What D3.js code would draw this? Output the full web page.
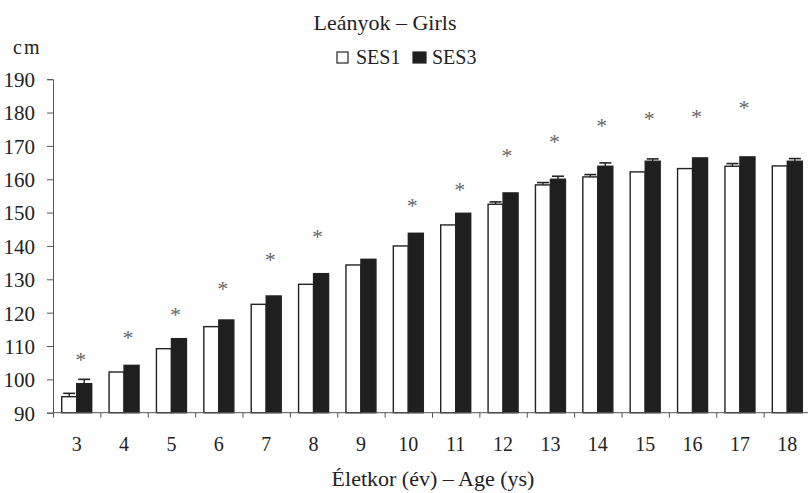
<!DOCTYPE html>
<html>
<head>
<meta charset="utf-8">
<script src="https://cdn.jsdelivr.net/npm/d3@7"></script>
<style>
  body { margin: 0; background: #fff; }
  svg text { font-family: "Liberation Serif", "Times New Roman", "DejaVu Serif", serif; fill: #222; }
</style>
</head>
<body>
<svg id="chart" width="808" height="493"></svg>
<script>
// chart values
var ages = ['3', '4', '5', '6', '7', '8', '9', '10', '11', '12', '13', '14', '15', '16', '17', '18'];
var ses1 = [94.8, 102.2, 109.2, 115.8, 122.5, 128.5, 134.3, 140.0, 146.3, 152.5, 158.3, 160.7, 162.2, 163.2, 163.9, 164.0];
var ses3 = [98.7, 104.2, 112.2, 117.8, 125.0, 131.7, 136.0, 143.8, 149.8, 155.9, 160.0, 163.9, 165.4, 166.4, 166.7, 165.4];
var ses1Err = [1.0, 0, 0, 0, 0, 0, 0, 0, 0, 0.7, 0.7, 0.7, 0, 0, 0.8, 0];
var ses3Err = [1.3, 0, 0, 0, 0, 0, 0, 0, 0, 0, 0.9, 1.0, 0.7, 0, 0, 0.8];
// height of the significance mark (null = no mark)
var starLevel = [106.6, 113.3, 120.2, 128.1, 136.8, 143.6, null, 153.0, 157.8, 168.0, 172.2, 177.0, 179.0, 179.5, 182.3, null];
var yTicks = [90, 100, 110, 120, 130, 140, 150, 160, 170, 180, 190];
var seriesNames = ['SES1', 'SES3'];

var svg = d3.select('#chart');
var x0Left = 53, x0Right = 811, yTop = 79.2, yBottom = 412.7;

var x = d3.scaleBand().domain(ages).range([x0Left, x0Right]).padding(0);
var xSub = d3.scaleBand().domain(seriesNames).range([8.7, 38.7]).padding(0);
var xEdge = d3.scaleLinear().domain([0, ages.length]).range([x0Left, x0Right]);
var y = d3.scaleLinear().domain([90, 190]).range([yBottom, yTop]);

var rows = ages.map(function(a, i) {
  return {
    age: a,
    bars: [
      {key: 'SES1', value: ses1[i], err: ses1Err[i]},
      {key: 'SES3', value: ses3[i], err: ses3Err[i]}
    ],
    star: starLevel[i]
  };
});

// bars
var groups = svg.append('g').selectAll('g.age').data(rows)
    .enter().append('g')
    .attr('class', 'age')
    .attr('transform', function(d) {
      return 'translate(' + x(d.age) + ',0)';
    });

groups.selectAll('rect').data(function(d) { return d.bars; })
    .enter().append('rect')
    .attr('x', function(d) { return xSub(d.key); })
    .attr('y', function(d) { return y(d.value); })
    .attr('width', xSub.bandwidth())
    .attr('height', function(d) { return y(90) - y(d.value); })
    .attr('fill', function(d) { return d.key == 'SES1' ? '#fff' : '#1f1f1f'; })
    .attr('stroke', '#222')
    .attr('stroke-width', 1.4);

// error bars, only where the picture shows them
var errs = groups.selectAll('g.err').data(function(d) {
  return d.bars.filter(function(b) { return b.err > 0; });
}).enter().append('g').attr('class', 'err');

errs.append('line')
    .attr('x1', function(d) { return xSub(d.key) + xSub.bandwidth() / 2; })
    .attr('x2', function(d) { return xSub(d.key) + xSub.bandwidth() / 2; })
    .attr('y1', function(d) { return y(d.value); })
    .attr('y2', function(d) { return y(d.value + d.err); })
    .attr('stroke', '#222').attr('stroke-width', 1.4);

errs.append('line')
    .attr('x1', function(d) { return xSub(d.key) + xSub.bandwidth() / 2 - 6; })
    .attr('x2', function(d) { return xSub(d.key) + xSub.bandwidth() / 2 + 6; })
    .attr('y1', function(d) { return y(d.value + d.err); })
    .attr('y2', function(d) { return y(d.value + d.err); })
    .attr('stroke', '#222').attr('stroke-width', 1.6);

// significance marks
groups.filter(function(d) { return d.star != null; })
    .append('text')
    .attr('x', x.bandwidth() / 2 + 4)
    .attr('y', function(d) { return y(d.star) + 10; })
    .attr('text-anchor', 'middle')
    .style('font-size', '22px')
    .style('fill', '#666')
    .text('*');

// y axis
var yAxis = svg.append('g')
    .attr('transform', 'translate(' + x0Left + ',0)')
    .call(d3.axisLeft(y).tickValues(yTicks).tickSize(6).tickPadding(12));
yAxis.attr('font-family', null);
yAxis.selectAll('text').style('font-size', '21px').attr('dy', '0.35em');

// x axis: ticks sit between the age groups
var xAxisTicks = svg.append('g')
    .attr('transform', 'translate(0,' + yBottom + ')')
    .call(d3.axisBottom(xEdge).tickValues(d3.range(ages.length + 1)).tickFormat('').tickSize(5));
xAxisTicks.select('.domain').attr('d', 'M' + x0Left + ',0H' + x0Right);

var xAxisLabels = svg.append('g')
    .attr('transform', 'translate(0,' + yBottom + ')')
    .call(d3.axisBottom(x).tickSize(0).tickPadding(24));
xAxisLabels.attr('font-family', null);
xAxisLabels.select('.domain').remove();
xAxisLabels.selectAll('text').style('font-size', '20px');

svg.selectAll('.domain, .tick line').attr('stroke', '#555');

// titles
svg.append('text').attr('x', 385).attr('y', 30).attr('text-anchor', 'middle')
    .style('font-size', '22px').text('Leányok – Girls');
svg.append('text').attr('x', 13).attr('y', 54)
    .style('font-size', '20px').style('letter-spacing', '2px').text('cm');
svg.append('text').attr('x', 433).attr('y', 486).attr('text-anchor', 'middle')
    .style('font-size', '22px').text('Életkor (év) – Age (ys)');

// legend
var legend = svg.append('g').attr('transform', 'translate(337,52)');
var legendItems = legend.selectAll('g').data(seriesNames)
    .enter().append('g')
    .attr('transform', function(d, i) { return 'translate(' + (i * 76) + ',0)'; });
legendItems.append('rect')
    .attr('width', function(d, i) { return i == 0 ? 11 : 13; })
    .attr('height', 11)
    .attr('fill', function(d, i) { return i == 0 ? '#fff' : '#1f1f1f'; })
    .attr('stroke', '#222').attr('stroke-width', 1.2);
legendItems.append('text')
    .attr('x', 19).attr('y', 11.5)
    .style('font-size', '20px')
    .text(function(d) { return d; });
</script>
</body>
</html>
